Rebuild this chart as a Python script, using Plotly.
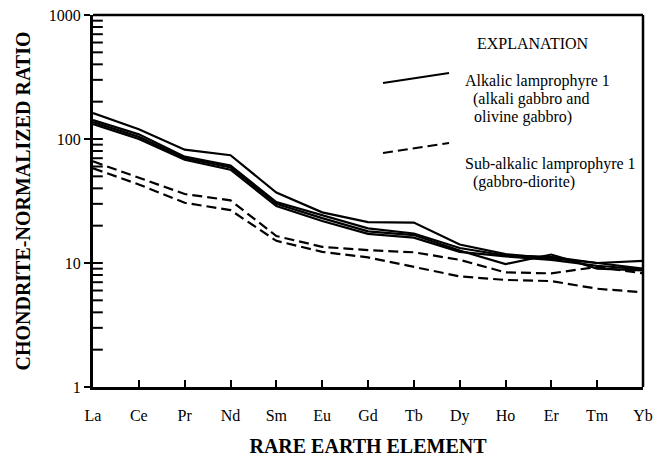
import plotly.graph_objects as go

# Rare earth elements, in order of atomic number (Lu omitted)
elements = ["La", "Ce", "Pr", "Nd", "Sm", "Eu", "Gd", "Tb", "Dy", "Ho", "Er", "Tm", "Yb"]

# Chondrite-normalized REE ratios, alkalic lamprophyre 1 samples
alkalic_1 = [162, 120, 82, 74, 37, 25.6, 21.4, 21.2, 14.1, 11.8, 10.9, 10.0, 9.0]
alkalic_2 = [142, 109, 72, 61, 31, 24.4, 19.0, 17.3, 13.2, 11.5, 11.2, 10.0, 10.4]
alkalic_3 = [137, 104, 70, 59, 30, 23.0, 18.0, 16.8, 12.6, 9.8, 11.7, 9.0, 8.7]
alkalic_4 = [132, 100, 68, 56.5, 28.8, 21.8, 17.2, 16.0, 12.3, 11.3, 10.6, 9.5, 8.9]

# Sub-alkalic lamprophyre 1 samples
subalkalic_1 = [66, 49, 36, 32, 16.5, 13.5, 12.7, 12.2, 10.6, 8.4, 8.25, 9.3, 8.25]
subalkalic_2 = [58, 43, 30.6, 26.7, 15.1, 12.3, 11.1, 9.3, 7.8, 7.3, 7.15, 6.2, 5.8]

y_tickvals = [1, 10, 100, 1000]
y_ticktext = ["1", "10", "100", "1000"]

# intermediate log-cycle tick positions (2..9 within each decade)
minor_vals = [k * 10 ** d for d in range(3) for k in range(2, 10)]

FONT = "Times New Roman, Liberation Serif, DejaVu Serif, serif"
INK = "black"

fig = go.Figure()

for series in [alkalic_1, alkalic_2, alkalic_3, alkalic_4]:
    fig.add_trace(go.Scatter(
        x=elements, y=series, mode="lines",
        line=dict(color=INK, width=2.2), showlegend=False, hoverinfo="skip",
    ))

for series in [subalkalic_1, subalkalic_2]:
    fig.add_trace(go.Scatter(
        x=elements, y=series, mode="lines",
        line=dict(color=INK, width=2.2, dash="10px,5px"), showlegend=False, hoverinfo="skip",
    ))

# inner log-cycle ticks on the y axis: horizontal dash markers at the left edge,
# clipped by the plot area so only the inward half shows
inner_ticks = minor_vals + y_tickvals[1:3]
fig.add_trace(go.Scatter(
    x=[elements[0]] * len(inner_ticks), y=inner_ticks, mode="markers",
    marker=dict(symbol="line-ew", size=14, color=INK, line=dict(color=INK, width=2)),
    cliponaxis=True, showlegend=False, hoverinfo="skip",
))

fig.update_layout(
    width=658, height=462,
    margin=dict(l=93, r=15, t=15, b=75, autoexpand=False),
    paper_bgcolor="white", plot_bgcolor="white",
    font=dict(family=FONT, color=INK, size=16),
    xaxis=dict(
        type="category", range=[0, 12], automargin=False,
        showgrid=False, zeroline=False,
        showline=True, linecolor=INK, linewidth=3,
        ticks="inside", ticklen=7, tickwidth=2, tickcolor=INK,
        tickfont=dict(family=FONT, size=16),
        ticklabelstandoff=12,
        title=dict(text="<b>RARE EARTH ELEMENT</b>", font=dict(family=FONT, size=20), standoff=15),
    ),
    yaxis=dict(
        type="log", range=[0, 3], automargin=False,
        showgrid=False, zeroline=False,
        showline=True, linecolor=INK, linewidth=3,
        tickvals=y_tickvals, ticktext=y_ticktext,
        ticks="outside", ticklen=6, tickwidth=2, tickcolor=INK,
        tickfont=dict(family=FONT, size=16),
        title=dict(text="<b>CHONDRITE-NORMALIZED RATIO</b>", font=dict(family=FONT, size=20), standoff=13),
    ),
)

# top and right frame lines
fig.add_shape(type="line", xref="paper", yref="paper", x0=0, x1=1, y0=1, y1=1,
              line=dict(color=INK, width=2.5))
fig.add_shape(type="line", xref="paper", yref="paper", x0=1, x1=1, y0=0, y1=1,
              line=dict(color=INK, width=2.5))

# explanation (key) block
fig.add_shape(type="line", xref="paper", yref="paper", x0=0.5273, y0=0.8172, x1=0.6473, y1=0.8441,
              line=dict(color=INK, width=2.2))
fig.add_shape(type="line", xref="paper", yref="paper", x0=0.5273, y0=0.629, x1=0.6473, y1=0.656,
              line=dict(color=INK, width=2.2, dash="10px,5px"))

key_text = [
    ("EXPLANATION", 0.80, 0.9247, "center"),
    ("Alkalic lamprophyre 1", 0.6727, 0.8226, "left"),
    ("(alkali gabbro and", 0.6873, 0.7742, "left"),
    ("olivine gabbro)", 0.689, 0.7258, "left"),
    ("Sub-alkalic lamprophyre 1", 0.6727, 0.5995, "left"),
    ("(gabbro-diorite)", 0.6873, 0.5511, "left"),
]
for txt, x, y, anchor in key_text:
    fig.add_annotation(text=txt, xref="paper", yref="paper", x=x, y=y,
                       xanchor=anchor, yanchor="middle", showarrow=False,
                       font=dict(family=FONT, size=16, color=INK))

fig.write_html("out.html")
